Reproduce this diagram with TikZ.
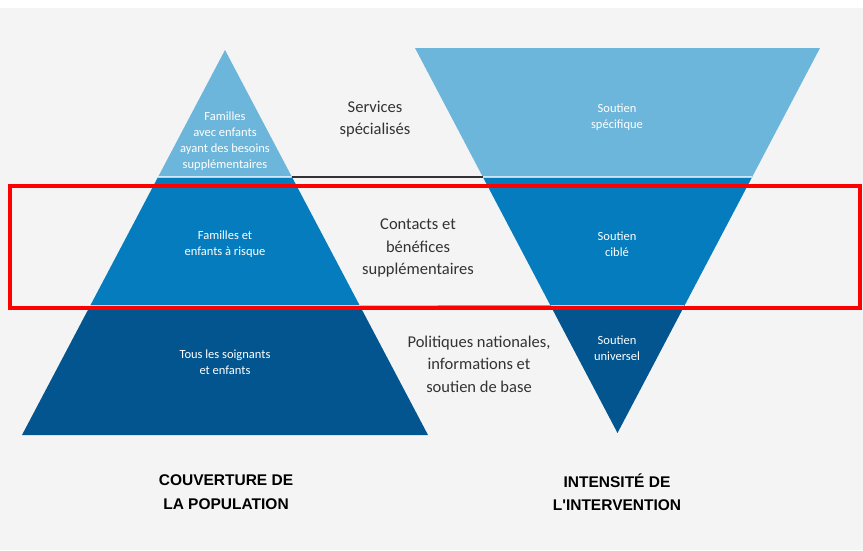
\documentclass[tikz,border=0pt]{standalone}
\usepackage{fontspec}
\setmainfont{Carlito}
\newfontfamily\headfont{Liberation Sans}
\usetikzlibrary{calc}

\definecolor{bglight}{HTML}{F4F4F4}
\definecolor{tierA}{HTML}{6DB6DB}
\definecolor{tierB}{HTML}{057CBD}
\definecolor{tierC}{HTML}{02558E}
\definecolor{ink}{HTML}{333333}

\tikzset{
	inlabel/.style={text=white, align=center, font=\fontsize{12.5}{16}\selectfont},
	midlabel/.style={text=ink, align=center, font=\fontsize{16.5}{22.5}\selectfont},
	axislabel/.style={text=black, align=center, font=\headfont\bfseries\fontsize{15.5}{23.5}\selectfont},
	gapline/.style={draw=white, opacity=0.7, line width=1.5pt},
}

\begin{document}
\begin{tikzpicture}[x=1pt, y=-1pt]
	\useasboundingbox (0,0) rectangle (863,550);
	\fill[white] (0,0) rectangle (863,550);
	\fill[bglight] (0,8) rectangle (863,550);

	% left pyramid
	\coordinate (lapex) at (225,50);
	\coordinate (lbl) at (22,435);
	\coordinate (lbr) at (428,435);
	\coordinate (l1l) at ($(lapex)!0.3299!(lbl)$);
	\coordinate (l1r) at ($(lapex)!0.3299!(lbr)$);
	\coordinate (l2l) at ($(lapex)!0.665!(lbl)$);
	\coordinate (l2r) at ($(lapex)!0.665!(lbr)$);

	\fill[tierA] (lapex) -- (l1r) -- (l1l) -- cycle;
	\fill[tierB] (l1l) -- (l1r) -- (l2r) -- (l2l) -- cycle;
	\fill[tierC] (l2l) -- (l2r) -- (lbr) -- (lbl) -- cycle;
	\draw[gapline] (l1l) -- (l1r);
	\draw[gapline] (l2l) -- (l2r);

	% right inverted pyramid
	\coordinate (rtl) at (415,48);
	\coordinate (rtr) at (820,48);
	\coordinate (rapex) at (617.5,433);
	\coordinate (r1l) at ($(rtl)!0.335!(rapex)$);
	\coordinate (r1r) at ($(rtr)!0.335!(rapex)$);
	\coordinate (r2l) at ($(rtl)!0.670!(rapex)$);
	\coordinate (r2r) at ($(rtr)!0.670!(rapex)$);

	\fill[tierA] (rtl) -- (rtr) -- (r1r) -- (r1l) -- cycle;
	\fill[tierB] (r1l) -- (r1r) -- (r2r) -- (r2l) -- cycle;
	\fill[tierC] (r2l) -- (r2r) -- (rapex) -- cycle;
	\draw[gapline] (r1l) -- (r1r);
	\draw[gapline] (r2l) -- (r2r);

	% links between tiers
	\draw[ink, line width=1.6pt] (l1r) -- (r1l);
	\draw[ink!70, line width=1pt] (l2r) -- (r2l);

	\node[inlabel] (famneeds) at (225,141) {Familles\\avec enfants\\ayant des besoins\\supplémentaires};
	\node[inlabel] (famrisk) at (225,244) {Familles et\\enfants à risque};
	\node[inlabel] (allcare) at (225,362) {Tous les soignants\\et enfants};

	\node[midlabel] (special) at (375,119) {Services\\spécialisés};
	\node[midlabel] (contacts) at (418,248) {Contacts et\\bénéfices\\supplémentaires};
	\node[midlabel] (policies) at (479,364) {Politiques nationales,\\informations et\\soutien de base};

	\node[inlabel] (specific) at (617,117) {Soutien\\spécifique};
	\node[inlabel] (targeted) at (617,244) {Soutien\\ciblé};
	\node[inlabel] (universal) at (617,348) {Soutien\\universel};

	\node[axislabel] (coverage) at (226,492) {COUVERTURE DE\\LA POPULATION};
	\node[axislabel] (intensity) at (617,492) {INTENSITÉ DE\\L'INTERVENTION};

	% highlight
	\draw[red, line width=3.5pt] (10,186) rectangle (860,308);
\end{tikzpicture}
\end{document}
